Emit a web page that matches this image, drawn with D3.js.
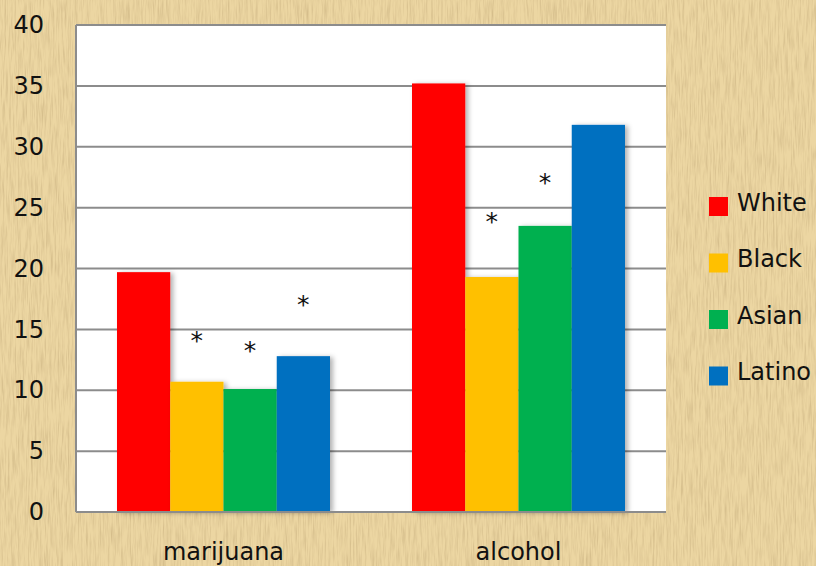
<!DOCTYPE html>
<html>
<head>
<meta charset="utf-8">
<script src="https://cdn.jsdelivr.net/npm/d3@7"></script>
<style>
   html, body { margin: 0; padding: 0; }
   body { width: 816px; height: 566px; overflow: hidden; }
   text { font-family: 'DejaVu Sans', sans-serif; fill: #111; }
</style>
</head>
<body>
<div id="chart"></div>
<script>
// data
const categories = ['marijuana', 'alcohol'];
const groups = ['White', 'Black', 'Asian', 'Latino'];
const colors = ['#ff0000', '#ffc000', '#00b050', '#0070c0'];
const marijuana = [19.7, 10.7, 10.1, 12.8];
const alcohol = [35.2, 19.3, 23.5, 31.8];
// height (in axis units) of the "*" markers, null = no marker
const marijuanaStars = [null, 14.3, 13.5, 17.3];
const alcoholStars = [null, 24.1, 27.3, null];
const yTicks = [0, 5, 10, 15, 20, 25, 30, 35, 40];

const values = [marijuana, alcohol];
const stars = [marijuanaStars, alcoholStars];

const W = 816, H = 566;
const margin = { top: 25, right: 150, bottom: 54, left: 76 };
const width = W - margin.left - margin.right;
const height = H - margin.top - margin.bottom;

const svg = d3.select('#chart')
   .append('svg')
   .attr('width', W)
   .attr('height', H);

const defs = svg.append('defs');

// parchment texture
const paper = defs.append('filter')
   .attr('id', 'paper')
   .attr('x', 0).attr('y', 0)
   .attr('width', '100%').attr('height', '100%');
paper.append('feTurbulence')
   .attr('type', 'fractalNoise')
   .attr('baseFrequency', '0.6 0.04')
   .attr('numOctaves', 3)
   .attr('seed', 4)
   .attr('result', 'noise');
paper.append('feColorMatrix')
   .attr('in', 'noise')
   .attr('type', 'matrix')
   .attr('values', '0 0 0 0 0.6  0 0 0 0 0.45  0 0 0 0 0.22  1.4 0 0 0 -0.55')
   .attr('result', 'tint');
paper.append('feComposite')
   .attr('in', 'tint')
   .attr('in2', 'SourceGraphic')
   .attr('operator', 'over');

const shadow = defs.append('filter')
   .attr('id', 'shadow')
   .attr('x', '-20%').attr('y', '-20%')
   .attr('width', '150%').attr('height', '140%');
shadow.append('feDropShadow')
   .attr('dx', 3).attr('dy', 1)
   .attr('stdDeviation', 2.5)
   .attr('flood-color', '#000')
   .attr('flood-opacity', 0.3);

svg.append('rect')
   .attr('width', W).attr('height', H)
   .attr('fill', '#ecd6a2')
   .attr('filter', 'url(#paper)');

const chart = svg.append('g')
   .attr('transform', `translate(${margin.left},${margin.top})`);

const xScale = d3.scaleBand()
   .domain(categories)
   .range([0, width])
   .paddingInner(0.278)
   .paddingOuter(0.139);

const xInner = d3.scaleBand()
   .domain(groups)
   .range([0, xScale.bandwidth()]);

const yScale = d3.scaleLinear()
   .domain([0, 40])
   .range([height, 0]);

const colorScale = d3.scaleOrdinal().domain(groups).range(colors);

// plot background
chart.append('rect')
   .attr('width', width)
   .attr('height', height)
   .attr('fill', '#fff');

// gridlines
chart.append('g')
   .selectAll('line')
   .data(yTicks.filter(d => d > 0))
   .join('line')
   .attr('x1', 0).attr('x2', width)
   .attr('y1', d => yScale(d)).attr('y2', d => yScale(d))
   .attr('stroke', '#8c8c8c')
   .attr('stroke-width', 2);

// bars
const catG = chart.selectAll('.cat')
   .data(categories)
   .join('g')
   .attr('class', 'cat')
   .attr('transform', d => `translate(${xScale(d)},0)`);

catG.selectAll('rect')
   .data((d, i) => groups.map((g, j) => ({ g, v: values[i][j] })))
   .join('rect')
   .attr('x', d => xInner(d.g))
   .attr('y', d => yScale(d.v))
   .attr('width', xInner.bandwidth())
   .attr('height', d => height - yScale(d.v))
   .attr('fill', d => colorScale(d.g))
   .attr('filter', 'url(#shadow)');

catG.selectAll('.star')
   .data((d, i) => groups.map((g, j) => ({ g, s: stars[i][j] })).filter(d => d.s != null))
   .join('text')
   .attr('class', 'star')
   .attr('x', d => xInner(d.g) + xInner.bandwidth() / 2)
   .attr('y', d => yScale(d.s))
   .attr('dy', '0.45em')
   .attr('text-anchor', 'middle')
   .attr('font-size', 25)
   .text('*');

// axis lines
chart.append('line')
   .attr('x1', 0).attr('x2', 0)
   .attr('y1', 0).attr('y2', height)
   .attr('stroke', '#8c8c8c').attr('stroke-width', 2);
chart.append('line')
   .attr('x1', 0).attr('x2', width)
   .attr('y1', height).attr('y2', height)
   .attr('stroke', '#8c8c8c').attr('stroke-width', 2);

// y axis labels
const yAxis = d3.axisLeft(yScale).tickValues(yTicks).tickSize(0).tickPadding(32);
const yAxisG = chart.append('g').call(yAxis);
yAxisG.select('.domain').remove();
yAxisG.selectAll('text')
   .attr('font-size', 24)
   .attr('fill', '#111')
   .style('font-family', "'DejaVu Sans', sans-serif");

// x axis labels
const xAxis = d3.axisBottom(xScale).tickSize(0).tickPadding(31);
const xAxisG = chart.append('g')
   .attr('transform', `translate(0,${height})`)
   .call(xAxis);
xAxisG.select('.domain').remove();
xAxisG.selectAll('text')
   .attr('font-size', 24)
   .attr('fill', '#111')
   .style('font-family', "'DejaVu Sans', sans-serif");

// legend
const legend = svg.append('g')
   .attr('transform', 'translate(709,197)');
const item = legend.selectAll('g')
   .data(groups)
   .join('g')
   .attr('transform', (d, i) => `translate(0,${i * 56.5})`);
item.append('rect')
   .attr('width', 19).attr('height', 19)
   .attr('fill', d => colorScale(d));
item.append('text')
   .attr('x', 28)
   .attr('y', 5.5)
   .attr('dy', '0.35em')
   .attr('font-size', 24)
   .text(d => d);
</script>
</body>
</html>
